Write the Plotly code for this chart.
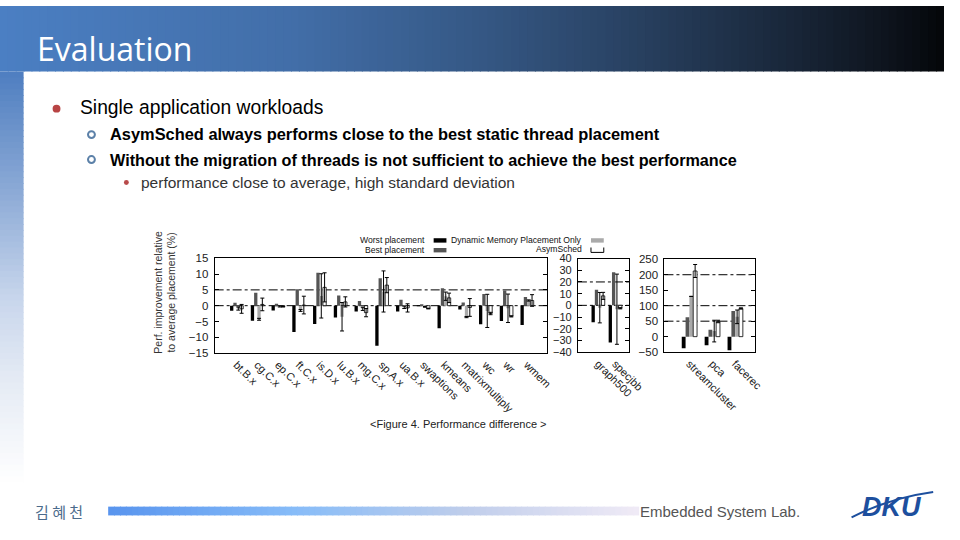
import plotly.graph_objects as go

# ---------------- data ----------------
NAS_CATS = ["bt.B.x", "cg.C.x", "ep.C.x", "ft.C.x", "is.D.x", "lu.B.x", "mg.C.x", "sp.A.x", "ua.B.x"]
NAS_WORST = [-1.6, -4.8, -1.5, -8.3, -5.8, -3.7, -1.8, -12.7, -1.8]
NAS_BEST = [0.9, 4.1, 0.6, 5.2, 10.4, 3.2, 1.5, 8.7, 1.9]
NAS_DMP = [-0.9, -4.3, -0.2, -1.5, 3.1, -3.5, -1.0, 4.5, -0.5]
NAS_DMP_ERR = [0.5, 0.3, 0.2, 0.3, 7.0, 4.5, 0.5, 6.5, 0.4]
NAS_ASYM = [-1.0, 0.4, -0.3, 0.2, 5.8, 1.2, -2.2, 6.5, -0.7]
NAS_ASYM_ERR = [1.4, 2.0, 0.1, 2.8, 4.6, 1.6, 1.3, 2.4, 1.3]

MP_CATS = ["swaptions", "kmeans", "matrixmultiply", "wc", "wr", "wmem"]
MP_WORST = [-0.4, -19.0, -3.3, -15.7, -12.9, -16.2]
MP_BEST = [0.6, 14.8, 2.7, 9.9, 12.9, 7.4]
MP_DMP = [-1.0, 8.0, -9.6, -4.4, -2.2, 4.4]
MP_DMP_ERR = [0.3, 3.5, 0.5, 14.0, 12.0, 0.5]
MP_ASYM = [-2.4, 6.6, -1.5, -6.6, -9.0, 4.4]
MP_ASYM_ERR = [0.3, 4.0, 7.5, 1.0, 0.5, 4.9]

JVM_CATS = ["graph500", "specjbb"]
JVM_WORST = [-14.4, -31.7]
JVM_BEST = [13.3, 28.3]
JVM_DMP = [-2.0, -3.3]
JVM_DMP_ERR = [13.0, 30.0]
JVM_ASYM = [8.1, -2.5]
JVM_ASYM_ERR = [3.0, 0.5]

BIG_CATS = ["streamcluster", "pca", "facerec"]
BIG_WORST = [-37.8, -28.0, -44.0]
BIG_BEST = [63.0, 22.0, 83.0]
BIG_DMP = [130.0, 18.0, 64.0]
BIG_DMP_ERR = [0.0, 35.0, 22.0]
BIG_ASYM = [212.0, 49.0, 91.0]
BIG_ASYM_ERR = [21.0, 4.0, 2.0]

GRID_P1 = [0, 5]
GRID_P2 = [0, 20]
GRID_P3 = [50, 100, 200]

SERIES_NAMES = ["Worst placement", "Best placement", "Dynamic Memory Placement Only", "AsymSched"]

# ---------------- helpers ----------------
W, H = 960, 540


def px(x):
    return x / W


def py(y):
    return 1 - y / H


def lerp(stops, t):
    for (p0, c0), (p1, c1) in zip(stops[:-1], stops[1:]):
        if p0 <= t <= p1:
            f = (t - p0) / (p1 - p0) if p1 > p0 else 0
            c = [round(a + (b - a) * f) for a, b in zip(c0, c1)]
            return "rgb(%d,%d,%d)" % tuple(c)
    c = stops[-1][1] if t > stops[-1][0] else stops[0][1]
    return "rgb(%d,%d,%d)" % tuple(c)


FILL = ["#000000", "#555555", "#aaaaaa", "#ffffff"]
FONT = "Liberation Sans, Arial, sans-serif"

fig = go.Figure()


def add_group(cats, series, errs, xa, ya, w):
    for i, vals in enumerate(series):
        err = errs[i]
        kw = {}
        if err is not None:
            kw["error_y"] = dict(type="data", array=err, visible=True, color="black",
                                 thickness=1, width=2)
        fig.add_trace(go.Bar(
            x=cats, y=vals, xaxis=xa, yaxis=ya, width=w, offset=(i - 2) * w,
            name=SERIES_NAMES[i],
            marker=dict(color=FILL[i], line=dict(color="black", width=0.8 if i == 3 else 0)),
            showlegend=False, hoverinfo="skip", **kw))


add_group(NAS_CATS, [NAS_WORST, NAS_BEST, NAS_DMP, NAS_ASYM],
          [None, None, NAS_DMP_ERR, NAS_ASYM_ERR], "x", "y", 0.159)
add_group(MP_CATS, [MP_WORST, MP_BEST, MP_DMP, MP_ASYM],
          [None, None, MP_DMP_ERR, MP_ASYM_ERR], "x", "y2", 0.159)
add_group(JVM_CATS, [JVM_WORST, JVM_BEST, JVM_DMP, JVM_ASYM],
          [None, None, JVM_DMP_ERR, JVM_ASYM_ERR], "x2", "y3", 0.193)
add_group(BIG_CATS, [BIG_WORST, BIG_BEST, BIG_DMP, BIG_ASYM],
          [None, None, BIG_DMP_ERR, BIG_ASYM_ERR], "x3", "y4", 0.167)

xcommon = dict(type="category", showline=True, mirror=True, linecolor="black", linewidth=1,
               ticks="", tickangle=45, tickfont=dict(family=FONT, size=11, color="#222"),
               showgrid=False, zeroline=False, fixedrange=True)
ycommon = dict(showline=True, mirror="ticks", linecolor="black", linewidth=1,
               ticks="inside", ticklen=4, tickcolor="black",
               tickfont=dict(family=FONT, size=11.5, color="#222"),
               showgrid=False, zeroline=False, ticklabelstandoff=3, fixedrange=True)

fig.update_layout(
    autosize=True, margin=dict(l=0, r=0, t=0, b=0, pad=0),
    paper_bgcolor="white", plot_bgcolor="rgba(0,0,0,0)",
    barmode="overlay", showlegend=False,
    xaxis=dict(xcommon, domain=[px(218.3), px(556.7)], anchor="y",
               categoryorder="array", categoryarray=NAS_CATS + MP_CATS, range=[-1.06, 14.98]),
    yaxis=dict(ycommon, domain=[py(355), py(258)], anchor="x", range=[-15, 15], dtick=5),
    yaxis2=dict(overlaying="y", anchor="x", range=[-40, 40], visible=False, side="right",
                fixedrange=True),
    xaxis2=dict(xcommon, domain=[px(587.7), px(640)], anchor="y3",
                categoryorder="array", categoryarray=JVM_CATS, range=[-1.18, 1.82]),
    yaxis3=dict(ycommon, domain=[py(354), py(258.3)], anchor="x2", range=[-40, 40], dtick=10,
                tickfont=dict(family=FONT, size=11, color="#222")),
    xaxis3=dict(xcommon, domain=[px(675.7), px(767.7)], anchor="y4",
                categoryorder="array", categoryarray=BIG_CATS, range=[-1.09, 2.86]),
    yaxis4=dict(ycommon, domain=[py(354), py(259)], anchor="x3", range=[-50, 250], dtick=50),
)

shapes = []
annos = []

# header gradient
HEAD_STOPS = [(0, (75, 127, 195)), (300, (66, 110, 168)), (500, (52, 86, 130)),
              (650, (40, 64, 96)), (800, (25, 39, 58)), (900, (14, 20, 30)), (960, (4, 6, 9))]
step = 8
for x in range(0, W, step):
    shapes.append(dict(type="rect", xref="paper", yref="paper", x0=px(x), x1=px(min(x + step + 1, W)),
                       y0=py(67), y1=1, fillcolor=lerp(HEAD_STOPS, x + step / 2),
                       line=dict(width=0), layer="below"))
# left vertical strip
LEFT_STOPS = [(67, (78, 126, 192)), (190, (140, 170, 214)), (300, (200, 214, 236)),
              (380, (228, 234, 244)), (490, (255, 255, 255))]
for y in range(67, 490, 6):
    shapes.append(dict(type="rect", xref="paper", yref="paper", x0=0, x1=px(24),
                       y0=py(y + 7), y1=py(y), fillcolor=lerp(LEFT_STOPS, y + 3),
                       line=dict(width=0), layer="below"))
# footer bar gradient
FOOT_STOPS = [(110, (88, 148, 238)), (300, (135, 188, 248)), (470, (190, 205, 235)),
              (650, (240, 234, 246))]
for x in range(110, 650, 6):
    shapes.append(dict(type="rect", xref="paper", yref="paper", x0=px(x), x1=px(min(x + 7, 650)),
                       y0=py(521), y1=py(512), fillcolor=lerp(FOOT_STOPS, x + 3),
                       line=dict(width=0), layer="below"))

# bullets
shapes.append(dict(type="circle", xref="paper", yref="paper", x0=px(53.5), x1=px(61.5),
                   y0=py(109), y1=py(101), fillcolor="#b84444", line=dict(width=0)))
for yc in (131.5, 157):
    shapes.append(dict(type="circle", xref="paper", yref="paper", x0=px(89.5), x1=px(96.5),
                       y0=py(yc + 3.5), y1=py(yc - 3.5), fillcolor="white",
                       line=dict(color="#5b80a8", width=2)))
shapes.append(dict(type="circle", xref="paper", yref="paper", x0=px(126), x1=px(131),
                   y0=py(183), y1=py(178), fillcolor="#b84a4a", line=dict(width=0)))

# grid dotted lines
for v in GRID_P1:
    shapes.append(dict(type="line", xref="x domain", yref="y", x0=0, x1=1, y0=v, y1=v,
                       line=dict(color="black", width=1, dash="dashdot"), layer="below"))
for v in GRID_P2:
    shapes.append(dict(type="line", xref="x2 domain", yref="y3", x0=0, x1=1, y0=v, y1=v,
                       line=dict(color="black", width=1, dash="dashdot"), layer="below"))
for v in GRID_P3:
    shapes.append(dict(type="line", xref="x3 domain", yref="y4", x0=0, x1=1, y0=v, y1=v,
                       line=dict(color="black", width=1, dash="dashdot"), layer="below"))

# legend swatches
sw = [(441, 237.5, FILL[0]), (441, 247.5, FILL[1]), (601, 237.5, FILL[2])]
for x0, y0, c in sw:
    shapes.append(dict(type="rect", xref="paper", yref="paper", x0=px(x0), x1=px(x0 + 13),
                       y0=py(y0 + 4.5), y1=py(y0), fillcolor=c, line=dict(width=0)))
shapes.append(dict(type="path", xref="paper", yref="paper",
                   path="M %f %f L %f %f L %f %f L %f %f" % (px(601), py(247), px(601), py(252),
                                                           px(614), py(252), px(614), py(247)),
                   line=dict(color="black", width=1)))

# logo swoosh
shapes.append(dict(type="path", xref="paper", yref="paper",
                   path="M %f %f Q %f %f %f %f" % (px(866), py(523), px(905), py(503), px(949), py(497)),
                   line=dict(color="#1d4f9e", width=2)))

# legend texts
for txt, x, y in [(SERIES_NAMES[0], 434, 239.5), (SERIES_NAMES[1], 434, 249.5),
                  (SERIES_NAMES[2], 594, 239.5), (SERIES_NAMES[3], 594, 249)]:
    annos.append(dict(text=txt, x=px(x), y=py(y), xref="paper", yref="paper", showarrow=False,
                      xanchor="right", yanchor="middle", font=dict(family=FONT, size=8.6, color="#111")))

# y-axis title
annos.append(dict(text="Perf. improvement relative<br>to average placement (%)", x=px(167.5), y=py(292.5),
                  xref="paper", yref="paper", showarrow=False, textangle=-90,
                  xanchor="center", yanchor="middle",
                  font=dict(family=FONT, size=10.5, color="#333")))

# caption
annos.append(dict(text="&lt;Figure 4. Performance difference &gt;", x=px(466.5), y=py(427),
                  xref="paper", yref="paper", showarrow=False, xanchor="center", yanchor="middle",
                  font=dict(family=FONT, size=11, color="#222")))

# slide texts
annos.append(dict(text="Evaluation", x=px(36), y=py(43), xref="paper", yref="paper", showarrow=False,
                  xanchor="left", yanchor="middle",
                  font=dict(family="Open Sans, sans-serif", size=32, color="white")))
annos.append(dict(text="Single application workloads", x=px(79.5), y=py(104), xref="paper", yref="paper",
                  showarrow=False, xanchor="left", yanchor="middle",
                  font=dict(family=FONT, size=19.3, color="black")))
annos.append(dict(text="<b>AsymSched always performs close to the best static thread placement</b>",
                  x=px(110), y=py(131), xref="paper", yref="paper", showarrow=False,
                  xanchor="left", yanchor="middle", font=dict(family=FONT, size=16.4, color="black")))
annos.append(dict(text="<b>Without the migration of threads is not sufficient to achieve the best performance</b>",
                  x=px(110), y=py(157), xref="paper", yref="paper", showarrow=False,
                  xanchor="left", yanchor="middle", font=dict(family=FONT, size=16.2, color="black")))
annos.append(dict(text="performance close to average, high standard deviation",
                  x=px(141.5), y=py(180.5), xref="paper", yref="paper", showarrow=False,
                  xanchor="left", yanchor="middle", font=dict(family=FONT, size=15.5, color="#333")))

# footer
annos.append(dict(text="김 혜 천", x=px(34), y=py(517), xref="paper", yref="paper", showarrow=False,
                  xanchor="left", yanchor="middle",
                  font=dict(family="Noto Sans CJK KR, sans-serif", size=15, color="#4b6b8c")))
annos.append(dict(text="Embedded System Lab.", x=px(649), y=py(517), xref="paper", yref="paper",
                  showarrow=False, xanchor="left", yanchor="middle",
                  font=dict(family=FONT, size=15, color="#555")))
annos.append(dict(text="<b><i>DKU</i></b>", x=px(907), y=py(512), xref="paper", yref="paper",
                  showarrow=False, xanchor="center", yanchor="middle",
                  font=dict(family=FONT, size=27, color="#1d4f9e")))

fig.update_layout(shapes=shapes, annotations=annos)

POST = (
    "var gd=document.getElementById('{plot_id}');"
    "var de=document.documentElement,b=document.body;"
    "de.style.margin='0';de.style.padding='0';de.style.overflow='hidden';"
    "b.style.margin='0';b.style.padding='0';b.style.overflow='hidden';"
    "gd.style.position='fixed';gd.style.left='0';gd.style.top='0';"
    "gd.style.width='100vw';gd.style.height='100vh';"
    "Plotly.Plots.resize(gd);"
)
fig.write_html(
    "out.html",
    default_width="100vw",
    default_height="100vh",
    config={"displayModeBar": False, "responsive": True},
    post_script=POST,
)
